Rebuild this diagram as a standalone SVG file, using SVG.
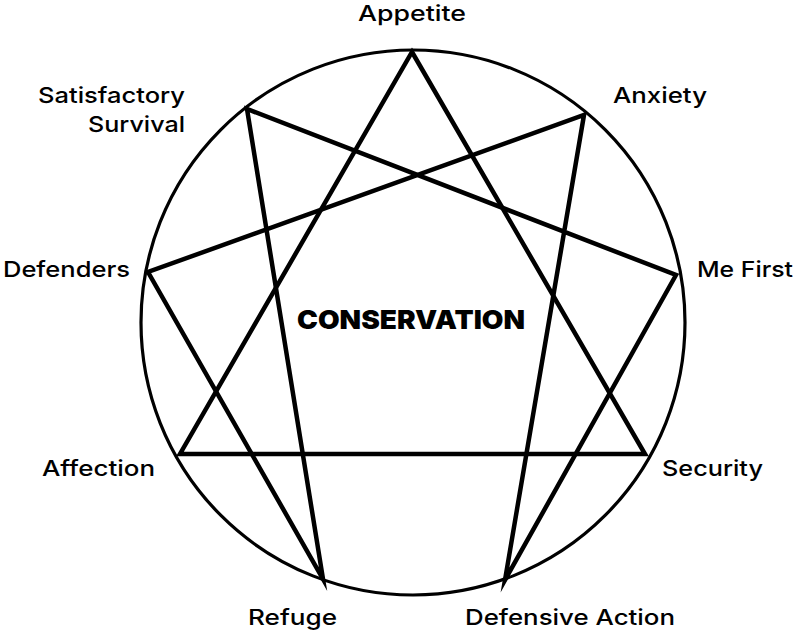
<svg xmlns="http://www.w3.org/2000/svg" width="796" height="632" viewBox="0 0 796 632">
<style>
.lbl{font-family:Inter,"Liberation Sans","DejaVu Sans",sans-serif;font-weight:500;font-size:22px;fill:#000}
.title{font-family:Inter,"Liberation Sans","DejaVu Sans",sans-serif;font-weight:900;font-size:26px;fill:#000}
.star{fill:none;stroke:#000;stroke-width:4.5;stroke-linejoin:miter;stroke-miterlimit:10}
</style>
<rect width="796" height="632" fill="#fff"/>
<g id="circle"><ellipse cx="413" cy="322.5" rx="272" ry="272.5" fill="none" stroke="#000" stroke-width="3.2"/></g>
<g id="connectors">
<polygon class="star" points="412,52 645,454 180,454"/>
<polygon class="star" points="584,115 505,580 676,275 247,109 323,579 148,272"/>
</g>
<g id="center"><text class="title" x="297" y="329" textLength="228" lengthAdjust="spacingAndGlyphs">CONSERVATION</text></g>
<g id="appetite"><text class="lbl" x="358" y="21" textLength="108" lengthAdjust="spacingAndGlyphs">Appetite</text></g>
<g id="anxiety"><text class="lbl" x="613" y="103" textLength="94" lengthAdjust="spacingAndGlyphs">Anxiety</text></g>
<g id="mefirst"><text class="lbl" x="697" y="277" textLength="96" lengthAdjust="spacingAndGlyphs">Me First</text></g>
<g id="security"><text class="lbl" x="662" y="476" textLength="101" lengthAdjust="spacingAndGlyphs">Security</text></g>
<g id="defensiveaction"><text class="lbl" x="465" y="625" textLength="210" lengthAdjust="spacingAndGlyphs">Defensive Action</text></g>
<g id="refuge"><text class="lbl" x="248" y="625" textLength="89" lengthAdjust="spacingAndGlyphs">Refuge</text></g>
<g id="affection"><text class="lbl" x="42" y="476" textLength="113" lengthAdjust="spacingAndGlyphs">Affection</text></g>
<g id="defenders"><text class="lbl" x="3" y="277" textLength="127" lengthAdjust="spacingAndGlyphs">Defenders</text></g>
<g id="satisfactory"><text class="lbl" x="38" y="103" textLength="147" lengthAdjust="spacingAndGlyphs">Satisfactory</text><text class="lbl" x="88" y="132" textLength="97" lengthAdjust="spacingAndGlyphs">Survival</text></g>
</svg>
